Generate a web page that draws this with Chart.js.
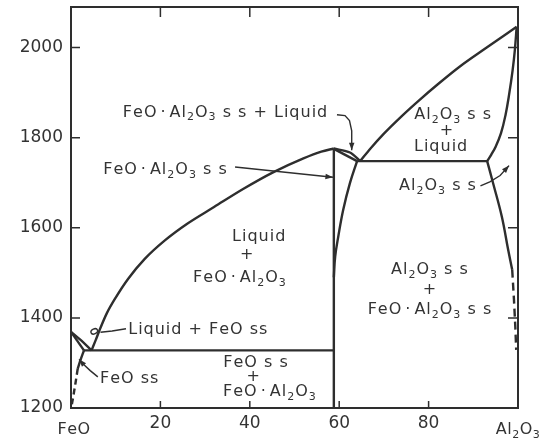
<!DOCTYPE html>
<html>
<head>
<meta charset="utf-8">
<script src="https://cdn.jsdelivr.net/npm/chart.js@4.4.1/dist/chart.umd.min.js"></script>
<style>
  html, body { margin: 0; padding: 0; background: #fff; }
  #wrap { position: relative; width: 543px; height: 446px; }
</style>
</head>
<body>
<div id="wrap"><canvas id="c"></canvas></div>
<script>
// FeO - Al2O3 phase diagram. x = wt% Al2O3, y = temperature (deg C)

// liquidus + solidus at the FeO end
const liqFeoX = [0, 2.4, 4.6];
const liqFeoT = [1369, 1349, 1328];
const solFeoX = [0, 2.9];
const solFeoT = [1369, 1328];
// FeO ss solvus (solid, then dashed)
const solvFeoX = [2.9, 2.0, 1.5];
const solvFeoT = [1328, 1303, 1287];
const solvFeoDashX = [1.5, 1.0, 0.5, 0.1];
const solvFeoDashT = [1287, 1255, 1225, 1203];
// eutectic FeO ss + spinel
const eutFeoX = [2.9, 58.8];
const eutFeoT = [1328, 1328];
// spinel liquidus, FeO side
const liqSpX = [4.6, 5.5, 6.6, 8.0, 10.0, 12.8, 16.5, 21, 26, 32, 38.5, 45.2, 52, 56, 58.8];
const liqSpT = [1328, 1350, 1378, 1410, 1445, 1487, 1531, 1572, 1609, 1646, 1686, 1723, 1754, 1769, 1776];
// FeO.Al2O3 composition line
const spinelX = [58.8, 58.8];
const spinelT = [1776, 1200];
// spinel liquidus / solidus, Al2O3 side
const liqSp2X = [58.8, 62.4, 64.7];
const liqSp2T = [1776, 1767, 1748];
const solSpX = [58.8, 64.0];
const solSpT = [1775, 1748];
// spinel ss solvus
const solvSpX = [64.0, 62.4, 60.9, 59.8, 59.1, 58.8];
const solvSpT = [1748, 1699, 1640, 1581, 1536, 1490];
// eutectic spinel + Al2O3 ss
const eutAlX = [64.0, 93.1];
const eutAlT = [1748, 1748];
// Al2O3 liquidus and solidus
const liqAlX = [64.7, 67, 70, 74, 78, 82, 87, 93, 99.7];
const liqAlT = [1748, 1776, 1809, 1848, 1884, 1918, 1958, 2000, 2046];
const solAlX = [99.7, 99.3, 98.8, 98.0, 97.2, 96.2, 95.0, 94.0, 93.1];
const solAlT = [2046, 1995, 1950, 1895, 1850, 1810, 1780, 1762, 1748];
// Al2O3 ss solvus (solid, then dashed)
const solvAlX = [93.1, 94.4, 96.4, 97.8, 98.7];
const solvAlT = [1748, 1700, 1624, 1551, 1507];
const solvAlDashX = [98.7, 99.1, 99.4, 99.6];
const solvAlDashT = [1507, 1440, 1380, 1329];

const INK = '#2e2e2e';
const TXT = '#333';

// field labels: [text, x, T, align]   (_ marks a subscript, ~ a wide dot)
const labels = [
  ['FeO~Al_2O_3 s s + Liquid', 11.6, 1856, 'left'],
  ['FeO~Al_2O_3 s s', 7.2, 1729, 'left'],
  ['Al_2O_3 s s', 85.5, 1851, 'center'],
  ['+', 84.1, 1816, 'center'],
  ['Liquid', 82.8, 1780, 'center'],
  ['Al_2O_3 s s', 82.1, 1693, 'center'],
  ['Liquid', 42.1, 1580, 'center'],
  ['+', 39.4, 1540, 'center'],
  ['FeO~Al_2O_3', 37.8, 1489, 'center'],
  ['Liquid + FeO ss', 12.8, 1373, 'left'],
  ['FeO ss', 6.5, 1264, 'left'],
  ['FeO s s', 41.4, 1300, 'center'],
  ['+', 40.9, 1269, 'center'],
  ['FeO~Al_2O_3', 44.5, 1236, 'center'],
  ['Al_2O_3 s s', 80.3, 1507, 'center'],
  ['+', 80.3, 1462, 'center'],
  ['FeO~Al_2O_3 s s', 80.3, 1418, 'center']
];

// leader arrows (x, T points; arrowhead at the last one)
const arrowA = [[59.5, 1851], [61.3, 1849], [62.3, 1838], [62.8, 1815], [62.8, 1772]];
const arrowB = [[36.7, 1735], [58.6, 1712]];
const arrowD = [[6.0, 1269], [4.3, 1283], [2.6, 1299], [1.8, 1308]];
const arrowE = [[91.6, 1693], [93.7, 1702], [96.0, 1716], [98.0, 1738]];
const leaderC = [[12.3, 1376], [9.2, 1371], [6.6, 1368]];
const loopC = [5.2, 1370];

function curve(xs, ts, extra) {
  return Object.assign({
    data: xs.map((x, i) => ({ x: x, y: ts[i] })),
    showLine: true, pointRadius: 0, borderColor: INK, borderWidth: 2.4,
    tension: 0, fill: false, clip: false
  }, extra || {});
}

function drawChem(ctx, str, x, y, align) {
  const segs = [];
  for (let i = 0; i < str.length; i++) {
    if (str[i] === '_') { segs.push({ t: str[i + 1], sub: true }); i++; }
    else if (str[i] === '~') segs.push({ t: '·', sub: false, pad: 3 });
    else segs.push({ t: str[i], sub: false });
  }
  const main = '16px "DejaVu Sans"', small = '11px "DejaVu Sans"';
  let w = 0;
  segs.forEach(s => {
    ctx.font = s.sub ? small : main;
    s.w = ctx.measureText(s.t).width + 2 * (s.pad || 0);
    w += s.w;
  });
  let cx = align === 'center' ? x - w / 2 : x;
  segs.forEach(s => {
    ctx.font = s.sub ? small : main;
    ctx.fillText(s.t, cx + (s.pad || 0), s.sub ? y + 5 : y);
    cx += s.w;
  });
}

function toPx(chart, p) {
  return [chart.scales.x.getPixelForValue(p[0]), chart.scales.y.getPixelForValue(p[1])];
}

function drawArrow(ctx, chart, pts, head) {
  const ps = pts.map(p => toPx(chart, p));
  ctx.beginPath();
  ctx.moveTo(ps[0][0], ps[0][1]);
  for (let i = 1; i < ps.length; i++) ctx.lineTo(ps[i][0], ps[i][1]);
  ctx.stroke();
  if (!head) return;
  const a = ps[ps.length - 2], b = ps[ps.length - 1];
  const ang = Math.atan2(b[1] - a[1], b[0] - a[0]);
  ctx.beginPath();
  ctx.moveTo(b[0], b[1]);
  ctx.lineTo(b[0] - 8 * Math.cos(ang - 0.35), b[1] - 8 * Math.sin(ang - 0.35));
  ctx.lineTo(b[0] - 8 * Math.cos(ang + 0.35), b[1] - 8 * Math.sin(ang + 0.35));
  ctx.closePath();
  ctx.fill();
}

const decor = {
  id: 'decor',
  afterDatasetsDraw(chart) {
    const ctx = chart.ctx, a = chart.chartArea;
    const xs = chart.scales.x, ys = chart.scales.y;
    ctx.save();
    ctx.strokeStyle = INK; ctx.fillStyle = INK;
    ctx.lineWidth = 2;
    ctx.strokeRect(a.left, a.top, a.right - a.left, a.bottom - a.top);
    // inward tick marks on all four sides
    ctx.lineWidth = 1.5;
    ctx.beginPath();
    ys.ticks.forEach(t => {
      if (t.value <= ys.min) return;
      const y = ys.getPixelForValue(t.value);
      ctx.moveTo(a.left, y); ctx.lineTo(a.left + 9, y);
      ctx.moveTo(a.right, y); ctx.lineTo(a.right - 10, y);
    });
    xs.ticks.forEach(t => {
      if (t.value <= xs.min || t.value >= xs.max) return;
      const x = xs.getPixelForValue(t.value);
      ctx.moveTo(x, a.bottom); ctx.lineTo(x, a.bottom - 7);
      ctx.moveTo(x, a.top); ctx.lineTo(x, a.top + 10);
    });
    ctx.stroke();

    // leaders
    ctx.lineWidth = 1.4;
    drawArrow(ctx, chart, arrowA, true);
    drawArrow(ctx, chart, arrowB, true);
    drawArrow(ctx, chart, arrowD, true);
    drawArrow(ctx, chart, arrowE, true);
    drawArrow(ctx, chart, leaderC, false);
    const lc = toPx(chart, loopC);
    ctx.beginPath();
    ctx.ellipse(lc[0], lc[1], 3.5, 2.5, -0.4, 0, Math.PI * 2);
    ctx.stroke();

    // text
    ctx.fillStyle = TXT;
    ctx.textBaseline = 'middle';
    ctx.textAlign = 'left';
    ctx.letterSpacing = '1px';
    labels.forEach(l => {
      const p = toPx(chart, [l[1], l[2]]);
      drawChem(ctx, l[0], p[0], p[1], l[3]);
    });
    // end-member names under the x axis
    ctx.letterSpacing = '0.5px';
    drawChem(ctx, 'FeO', xs.getPixelForValue(0) + 3, a.bottom + 22, 'center');
    drawChem(ctx, 'Al_2O_3', xs.getPixelForValue(100), a.bottom + 22, 'center');
    ctx.restore();
  }
};

const tickFont = { family: 'DejaVu Sans', size: 17 };

new Chart(document.getElementById('c'), {
  type: 'scatter',
  data: {
    datasets: [
      curve(liqFeoX, liqFeoT),
      curve(solFeoX, solFeoT),
      curve(solvFeoX, solvFeoT, { tension: 0.3 }),
      curve(solvFeoDashX, solvFeoDashT, { borderDash: [6, 4] }),
      curve(eutFeoX, eutFeoT),
      curve(liqSpX, liqSpT, { cubicInterpolationMode: 'monotone' }),
      curve(spinelX, spinelT),
      curve(liqSp2X, liqSp2T, { tension: 0.3 }),
      curve(solSpX, solSpT),
      curve(solvSpX, solvSpT, { tension: 0.4 }),
      curve(eutAlX, eutAlT),
      curve(liqAlX, liqAlT, { cubicInterpolationMode: 'monotone' }),
      curve(solAlX, solAlT, { tension: 0.4 }),
      curve(solvAlX, solvAlT, { tension: 0.4 }),
      curve(solvAlDashX, solvAlDashT, { borderDash: [8, 5] })
    ]
  },
  options: {
    responsive: true,
    maintainAspectRatio: false,
    animation: false,
    layout: { padding: { top: 7, right: 25, bottom: 0, left: 0 } },
    plugins: { legend: { display: false }, tooltip: { enabled: false } },
    scales: {
      x: {
        type: 'linear', min: 0, max: 100,
        grid: { display: false, drawTicks: false },
        border: { display: false },
        ticks: { stepSize: 20, padding: 5, font: tickFont, color: TXT, maxRotation: 0, autoSkip: false,
          callback: v => (v === 0 || v === 100) ? '' : String(v) },
        afterFit: s => { s.height = 38; s.paddingLeft = 0; s.paddingRight = 0; }
      },
      y: {
        type: 'linear', min: 1200, max: 2090,
        grid: { display: false, drawTicks: false },
        border: { display: false },
        ticks: { stepSize: 200, padding: 8, font: tickFont, color: TXT, callback: v => String(v) },
        afterBuildTicks: s => { s.ticks = s.ticks.filter(t => t.value % 200 === 0); },
        afterFit: s => { s.width = 71; s.paddingTop = 0; s.paddingBottom = 0; }
      }
    }
  },
  plugins: [decor]
});
</script>
</body>
</html>
